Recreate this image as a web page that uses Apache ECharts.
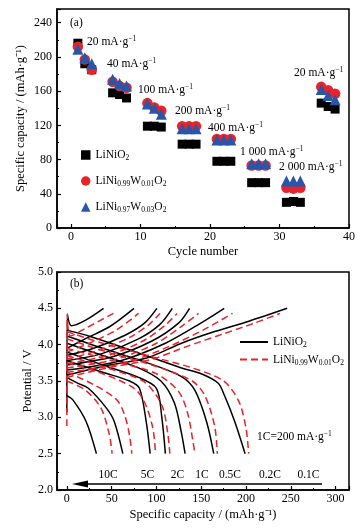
<!DOCTYPE html>
<html>
<head>
<meta charset="utf-8">
<script src="https://cdn.jsdelivr.net/npm/echarts@6/dist/echarts.min.js"></script>
<style>
  html, body { margin: 0; padding: 0; background: #fff; }
  #main { width: 364px; height: 528px; }
</style>
</head>
<body>
<div id="main"></div>
<script>
// (a) rate capability, capacity in mAh/g
const cycles = [1, 2, 3, 6, 7, 8, 11, 12, 13, 16, 17, 18, 21, 22, 23, 26, 27, 28, 31, 32, 33, 36, 37, 38];
const capNiO2 = [216, 192, 185, 158, 156, 152, 119, 119, 118, 98, 98, 98, 78, 78, 78, 53, 53, 53, 30, 31, 30, 146, 142, 139];
const capW001 = [212, 197, 185, 171, 166, 164, 146, 141, 137, 119, 119, 119, 104, 104, 104, 73, 73, 73, 47, 46, 47, 165, 161, 157];
const capW003 = [209, 199, 192, 174, 169, 166, 145, 140, 133, 116, 116, 116, 103, 103, 103, 75, 75, 75, 55, 55, 55, 162, 155, 150];
const currentNotes = ['20', '40', '100', '200', '400', '1 000', '2 000', '20'];
const materials = ['LiNiO2', 'LiNi0.99W0.01O2', 'LiNi0.97W0.03O2'];

// (b) charge / discharge profiles, [capacity, potential], order 10C ... 0.1C
const rateNames = ['10C', '5C', '2C', '1C', '0.5C', '0.2C', '0.1C'];
const niCharge = [
  [[0, 3.07], [0.5, 4.42], [5, 4.26], [20, 4.33], [41, 4.5]],
  [[0, 3.95], [22, 4.09], [48, 4.25], [75, 4.5]],
  [[0, 3.85], [30, 3.95], [65, 4.13], [87, 4.3], [100.5, 4.5]],
  [[0, 3.78], [40, 3.88], [80, 4.08], [104, 4.28], [117.7, 4.5]],
  [[0, 3.72], [50, 3.83], [95, 4.05], [125, 4.3], [137, 4.5]],
  [[0, 3.65], [60, 3.78], [110, 4.02], [150, 4.3], [175.7, 4.5]],
  [[0, 3.58], [40, 3.7], [90, 3.82], [128, 4.02], [165, 4.18], [202.5, 4.32], [246, 4.5]]
];
const niDischarge = [
  [[0, 3.3], [6.7, 3.24], [21.6, 2.94], [33, 2.5]],
  [[0, 3.55], [12, 3.47], [24, 3.4], [44, 3.13], [53, 2.94], [62.5, 2.5]],
  [[0, 3.78], [40, 3.62], [70, 3.5], [81, 3.4], [88.6, 2.94], [93, 2.5]],
  [[0, 3.9], [40, 3.72], [80, 3.55], [100, 3.4], [106, 3.0], [110, 2.5]],
  [[0, 4.02], [40, 3.85], [80, 3.68], [105, 3.5], [120, 3.2], [127.7, 2.8], [132, 2.5]],
  [[0, 4.12], [40, 3.95], [90, 3.75], [128, 3.56], [143, 3.37], [156, 2.94], [164, 2.5]],
  [[0, 4.2], [27, 4.11], [70, 3.93], [128, 3.68], [150, 3.6], [169, 3.47], [176, 3.3], [187.5, 2.94], [199, 2.5]]
];
const wCharge = [
  [[0, 2.88], [0.5, 4.42], [4, 4.12], [20, 4.22], [52, 4.43]],
  [[0, 3.9], [25, 4.02], [55, 4.2], [80, 4.43]],
  [[0, 3.8], [35, 3.92], [70, 4.1], [92, 4.28], [104, 4.43]],
  [[0, 3.74], [45, 3.85], [85, 4.05], [110, 4.27], [123, 4.43]],
  [[0, 3.68], [55, 3.8], [100, 4.02], [130, 4.27], [147, 4.43]],
  [[0, 3.62], [65, 3.75], [115, 3.98], [155, 4.22], [185, 4.43]],
  [[0, 3.55], [45, 3.68], [95, 3.8], [135, 3.98], [175, 4.15], [210, 4.3], [238, 4.43]]
];
const wDischarge = [
  [[0, 3.5], [20, 3.38], [38, 3.13], [47.7, 2.75], [50.5, 2.5]],
  [[0, 3.62], [30, 3.45], [55, 3.25], [64, 3.05], [70, 2.75], [72.5, 2.5]],
  [[0, 3.75], [40, 3.6], [75, 3.4], [87, 3.2], [96, 2.85], [99, 2.5]],
  [[0, 3.85], [40, 3.7], [85, 3.5], [100, 3.3], [108, 3.1], [113, 2.75], [115, 2.5]],
  [[0, 3.95], [50, 3.78], [100, 3.6], [125, 3.35], [135, 3.05], [141, 2.65], [143, 2.5]],
  [[0, 4.08], [50, 3.88], [100, 3.7], [140, 3.5], [154, 3.3], [165, 2.88], [168, 2.5]],
  [[0, 4.18], [40, 4.02], [90, 3.85], [140, 3.68], [175, 3.5], [192, 3.22], [200, 2.85], [203, 2.5]]
];

const serif = '"Liberation Serif", "Times New Roman", serif';
const RED = '#e8232a', BLUE = '#2856a8';

// LiNi0.99W0.01O2 -> rich text with subscripts
function chem(name) {
  name = name.replace(/^b-/, '');
  return '{n|' + name.replace(/(\d[\d.]*)/g, '}{s|$1}{n|') + '}';
}
const textRich = {
  n: { fontFamily: serif, fontSize: 11.5, color: '#000' },
  s: { fontFamily: serif, fontSize: 7.5, color: '#000', padding: [7, 0, 0, 0] },
  p: { fontFamily: serif, fontSize: 7.5, color: '#000', padding: [0, 0, 6, 0] }
};

// plain or rich text placed at a pixel position
function note(x, y, text, align) {
  return {
    type: 'text', x: x, y: y, silent: true,
    style: { text: text, rich: textRich, font: '11.5px ' + serif, fill: '#000', align: align || 'left', verticalAlign: 'middle' }
  };
}
function perGram(value) {
  return '{n|' + value + ' mA·g}{p|−1}';
}

function axis(gi, min, max, name, gap, o) {
  return Object.assign({
    type: 'value', gridIndex: gi, min: min, max: max,
    name: name, nameLocation: 'middle', nameGap: gap, nameMoveOverlap: false,
    nameTextStyle: { fontFamily: serif, fontSize: 12.5, color: '#000' },
    axisLine: { onZero: false, lineStyle: { color: '#000', width: 1.5 } },
    axisTick: { inside: true, length: 4, lineStyle: { color: '#000', width: 1.2 } },
    minorTick: { show: true, splitNumber: 2, length: 2, lineStyle: { color: '#000', width: 1 } },
    splitLine: { show: false }
  }, o);
}
function labels(margin, o) {
  return Object.assign({ fontFamily: serif, fontSize: 12, color: '#000', margin: margin }, o);
}

const chart = echarts.init(document.getElementById('main'), null, { renderer: 'canvas' });

const series = [
  { name: materials[0], symbol: 'rect', symbolSize: 9, color: '#000' },
  { name: materials[1], symbol: 'circle', symbolSize: 10.5, color: RED },
  { name: materials[2], symbol: 'triangle', symbolSize: 11, color: BLUE }
].map(function (m, k) {
  const caps = [capNiO2, capW001, capW003][k];
  return {
    type: 'scatter', name: m.name, xAxisIndex: 0, yAxisIndex: 0,
    symbol: m.symbol, symbolSize: m.symbolSize, itemStyle: { color: m.color, opacity: 1 },
    data: cycles.map(function (c, i) { return [c, caps[i]]; })
  };
});

function profile(name, curve, color, dashed) {
  return {
    type: 'line', name: name, xAxisIndex: 1, yAxisIndex: 1,
    symbol: 'none', smooth: 0.3, data: curve,
    lineStyle: { color: color, width: 1.5, type: dashed ? [7, 4] : 'solid' },
    itemStyle: { color: color }
  };
}
rateNames.forEach(function (r, i) {
  series.push(profile('b-LiNiO2', niCharge[i], '#000', false));
  series.push(profile('b-LiNiO2', niDischarge[i], '#000', false));
});
rateNames.forEach(function (r, i) {
  series.push(profile('b-LiNi0.99W0.01O2', wCharge[i], RED, true));
  series.push(profile('b-LiNi0.99W0.01O2', wDischarge[i], RED, true));
});

// annotation positions (pixels)
const notePos = [[87, 42], [107, 64], [138, 90], [175, 111], [208, 128], [240, 152], [279, 167], [294, 73]];
const ratePos = [108, 147.5, 177.5, 202, 230, 270, 308.5];
const graphics = currentNotes.map(function (t, i) { return note(notePos[i][0], notePos[i][1], perGram(t)); })
  .concat(rateNames.map(function (r, i) { return note(ratePos[i], 475, r, 'center'); }))
  .concat([
    note(70, 23, '(a)'),
    note(70, 284, '(b)'),
    note(257, 437, '{n|1C=200 mA·g}{p|−1}'),
    { type: 'line', silent: true, shape: { x1: 84, y1: 484, x2: 322, y2: 484 }, style: { stroke: '#000', lineWidth: 1.5 } },
    { type: 'polygon', silent: true, shape: { points: [[72, 484], [88, 480.5], [88, 487.5]] }, style: { fill: '#000' } }
  ]);

const option = {
  animation: false,
  backgroundColor: '#fff',
  grid: [
    { left: 57, top: 9, width: 292, height: 219, show: true, borderColor: '#000', borderWidth: 1.5 },
    { left: 57, top: 272, width: 292, height: 218, show: true, borderColor: '#000', borderWidth: 1.5 }
  ],
  xAxis: [
    axis(0, -2, 40, 'Cycle number', 17, { splitNumber: 4, axisLabel: labels(3, { showMinLabel: false }) }),
    axis(1, -11, 315, 'Specific capacity / (mAh·g⁻¹)', 18, { splitNumber: 6, axisLabel: labels(3, { showMinLabel: false, showMaxLabel: false }) })
  ],
  yAxis: [
    axis(0, 0, 256, 'Specific capacity / (mAh·g⁻¹)', 30, { interval: 40, axisLabel: labels(5, { showMaxLabel: false }) }),
    axis(1, 2, 5, 'Potential / V', 23, { interval: 0.5, axisLabel: labels(4, { formatter: function (v) { return v.toFixed(1); } }) })
  ],
  legend: [
    {
      data: [{ name: materials[0], icon: 'rect' }, { name: materials[1], icon: 'circle' }, { name: materials[2], icon: 'triangle' }],
      orient: 'vertical', left: 76, top: 144, itemWidth: 9.5, itemHeight: 9.5, itemGap: 12.5,
      formatter: chem, textStyle: { rich: textRich }, selectedMode: false
    },
    {
      data: ['b-LiNiO2', 'b-LiNi0.99W0.01O2'],
      orient: 'vertical', left: 234, top: 331, itemWidth: 28, itemHeight: 10, itemGap: 4,
      itemStyle: { opacity: 0 },
      formatter: chem, textStyle: { rich: textRich }, selectedMode: false
    }
  ],
  graphic: graphics,
  series: series
};

chart.setOption(option);
</script>
</body>
</html>
